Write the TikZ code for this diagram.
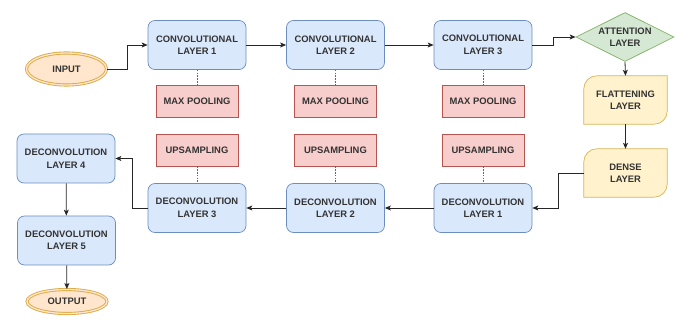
\documentclass[tikz,border=0pt]{standalone}
\usepackage{fontspec}
\setmainfont{Liberation Sans}
\usetikzlibrary{arrows.meta,shapes.geometric,backgrounds}
\definecolor{bluefill}{HTML}{DAE8FC}
\definecolor{blueline}{HTML}{6C8EBF}
\definecolor{redfill}{HTML}{F8CECC}
\definecolor{redline}{HTML}{B85450}
\definecolor{greenfill}{HTML}{D5E8D4}
\definecolor{greenline}{HTML}{82B366}
\definecolor{yelfill}{HTML}{FFF2CC}
\definecolor{yelline}{HTML}{D6B656}
\definecolor{orfill}{HTML}{FFE6CC}
\definecolor{orline}{HTML}{DDAA44}
\definecolor{txt}{HTML}{333333}
\tikzset{
  lbl/.style={font=\fontsize{9.4}{10.5}\selectfont\bfseries, text=txt, align=center, inner sep=0pt},
  bluebox/.style={lbl, rectangle, rounded corners=7pt, draw=blueline, fill=bluefill, line width=0.7pt, minimum width=98pt, minimum height=49pt},
  redbox/.style={lbl, rectangle, draw=redline, fill=redfill, line width=0.7pt, minimum width=82pt, minimum height=32pt},
  termin/.style={lbl, ellipse, draw=orline, double=orfill, double distance=1.3pt, line width=0.9pt, fill=orfill, minimum width=80pt, inner sep=0pt},
  diam/.style={lbl, diamond, draw=greenline, fill=greenfill, line width=0.7pt, minimum width=98pt, minimum height=49pt, aspect=2, inner sep=0pt},
  cardbox/.style={lbl, rectangle, minimum width=83pt, minimum height=48pt},
  conn/.style={draw=black!85, line width=0.8pt, -{Stealth[length=6pt,width=5pt,inset=1.5pt]}},
  dotline/.style={draw=black!60, line width=0.8pt, dash pattern=on 1.6pt off 1.2pt},
}
\newcommand{\cardshape}[1]{%
  \begin{scope}[on background layer]
  \filldraw[draw=yelline, fill=yelfill, line width=0.7pt]
    (#1.south west) -- ([yshift=-13pt]#1.north west)
    arc[start angle=180, end angle=90, radius=13pt]
    -- (#1.north east) -- ([yshift=13pt]#1.south east)
    arc[start angle=0, end angle=-90, radius=13pt] -- cycle;
  \end{scope}}
\begin{document}
\begin{tikzpicture}[x=1pt,y=-1pt]
\useasboundingbox (0,0) rectangle (686,320);
% top row
\node[termin, minimum height=32pt] (inp) at (66.5,69) {INPUT};
\node[bluebox] (c1) at (197,45) {CONVOLUTIONAL\\[2pt]LAYER 1};
\node[bluebox] (c2) at (335.5,45) {CONVOLUTIONAL\\[2pt]LAYER 2};
\node[bluebox] (c3) at (483,45) {CONVOLUTIONAL\\[2pt]LAYER 3};
\node[diam] (att) at (625,37) {ATTENTION\\[2pt]LAYER};
\node[cardbox] (fl) at (625.5,100) {FLATTENING\\[2pt]LAYER};
\cardshape{fl}
\node[cardbox] (dn) at (625.5,173) {DENSE\\[2pt]LAYER};
\cardshape{dn}
% pooling / upsampling
\node[redbox] (m1) at (197,101) {MAX POOLING};
\node[redbox] (m2) at (335.5,101) {MAX POOLING};
\node[redbox] (m3) at (483,101) {MAX POOLING};
\node[redbox] (u1) at (197,150) {UPSAMPLING};
\node[redbox] (u2) at (335.5,150) {UPSAMPLING};
\node[redbox] (u3) at (483,150) {UPSAMPLING};
% bottom row
\node[bluebox] (d1) at (483,208) {DECONVOLUTION\\[2pt]LAYER 1};
\node[bluebox] (d2) at (335.5,208) {DECONVOLUTION\\[2pt]LAYER 2};
\node[bluebox] (d3) at (197,208) {DECONVOLUTION\\[2pt]LAYER 3};
\node[bluebox] (d4) at (66,158.5) {DECONVOLUTION\\[2pt]LAYER 4};
\node[bluebox] (d5) at (66.5,240.5) {DECONVOLUTION\\[2pt]LAYER 5};
\node[termin, minimum height=24pt] (out) at (67,301.5) {OUTPUT};
% dotted links
\draw[dotline] (c1) -- (m1);
\draw[dotline] (c2) -- (m2);
\draw[dotline] (c3) -- (m3);
\draw[dotline] (u1) -- (d3);
\draw[dotline] (u2) -- (d2);
\draw[dotline] (u3) -- (d1);
% connectors
\coordinate (j1) at (127,69);
\coordinate (j2) at (553,45);
\coordinate (j3) at (558,173);
\coordinate (j4) at (132,208);
\draw[conn] (inp.east) -- (j1) |- (c1.west);
\draw[conn] (c1) -- (c2);
\draw[conn] (c2) -- (c3);
\draw[conn] (c3.east) -- (j2) |- (att.west);
\draw[conn] (att.south) -- (fl.north);
\draw[conn] (fl.south) -- (dn.north);
\draw[conn] (dn.west) -- (j3) |- (d1.east);
\draw[conn] (d1) -- (d2);
\draw[conn] (d2) -- (d3);
\draw[conn] (d3.west) -- (j4) |- (d4.east);
\draw[conn] (d4) -- (d5);
\draw[conn] (d5) -- (out);
\end{tikzpicture}
\end{document}
